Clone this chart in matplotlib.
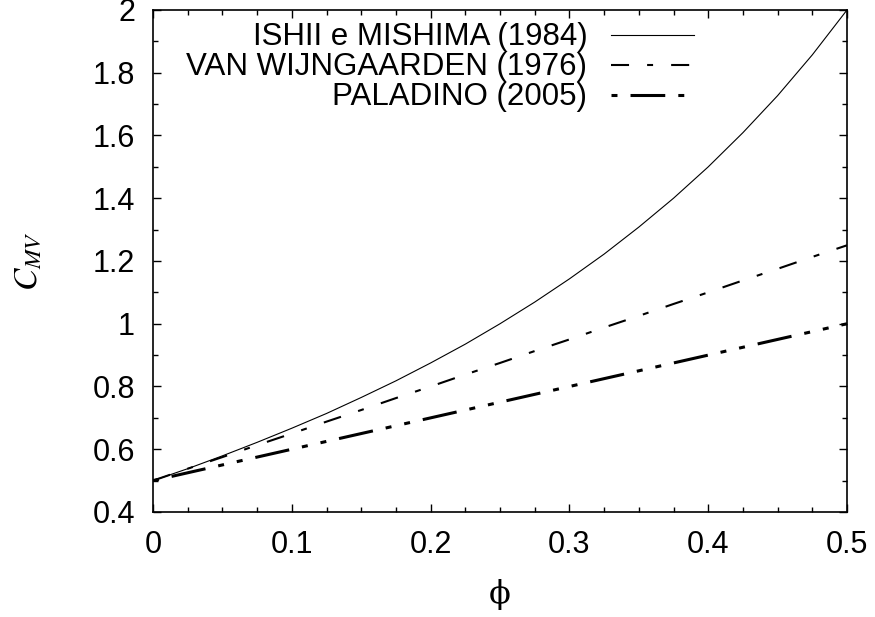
import matplotlib
matplotlib.use("Agg")
import matplotlib.pyplot as plt
from matplotlib.ticker import MultipleLocator

# void fraction and drag coefficient readings
phi = [0.0, 0.025, 0.05, 0.075, 0.1, 0.125, 0.15, 0.175, 0.2, 0.225, 0.25,
       0.275, 0.3, 0.325, 0.35, 0.375, 0.4, 0.425, 0.45, 0.475, 0.5]
ishii = [0.500, 0.538, 0.579, 0.622, 0.667, 0.714, 0.765, 0.818, 0.875, 0.935,
         1.000, 1.069, 1.143, 1.222, 1.308, 1.400, 1.500, 1.609, 1.727, 1.857, 2.000]
wijngaarden = [0.500, 0.538, 0.575, 0.613, 0.650, 0.688, 0.725, 0.763, 0.800,
               0.838, 0.875, 0.913, 0.950, 0.988, 1.025, 1.063, 1.100, 1.138,
               1.175, 1.213, 1.250]
paladino = [0.500, 0.525, 0.550, 0.575, 0.600, 0.625, 0.650, 0.675, 0.700,
            0.725, 0.750, 0.775, 0.800, 0.825, 0.850, 0.875, 0.900, 0.925,
            0.950, 0.975, 1.000]
labels = ["ISHII e MISHIMA (1984)", "VAN WIJNGAARDEN (1976)", "PALADINO (2005)"]
xticks = [0.0, 0.1, 0.2, 0.3, 0.4, 0.5]
xticklabels = ['0', '0.1', '0.2', '0.3', '0.4', '0.5']
yticks = [0.4, 0.6, 0.8, 1.0, 1.2, 1.4, 1.6, 1.8, 2.0]
yticklabels = ['0.4', '0.6', '0.8', '1', '1.2', '1.4', '1.6', '1.8', '2']

plt.rcParams['font.family'] = ['Liberation Sans', 'DejaVu Sans']
plt.rcParams['mathtext.fontset'] = 'stix'
plt.rcParams['lines.scale_dashes'] = False

fig = plt.figure(figsize=(8.75, 6.17), dpi=100)
ax = fig.add_axes([0.1749, 0.1702, 0.7931, 0.8136])

ax.plot(phi, ishii, color='black', lw=0.8, label=labels[0])
ax.plot(phi, wijngaarden, color='black', lw=1.5, dashes=(13, 13, 4.3, 13),
        label=labels[1])
ax.plot(phi, paladino, color='black', lw=2.2,
        dashes=(4.3, 9.4, 25, 9.4, 4.3, 9.4), label=labels[2])

ax.set_xlim(0, 0.5)
ax.set_ylim(0.4, 2.0)
ax.set_xticks(xticks)
ax.set_xticklabels(xticklabels)
ax.set_yticks(yticks)
ax.set_yticklabels(yticklabels)
ax.xaxis.set_minor_locator(MultipleLocator(0.025))
ax.yaxis.set_minor_locator(MultipleLocator(0.1))
ax.tick_params(which='both', direction='in', top=True, right=True,
               labelsize=22, pad=13, width=1)
ax.tick_params(which='major', length=6)
ax.tick_params(which='minor', length=3.5)
for s in ax.spines.values():
    s.set_linewidth(1.2)

ax.set_xlabel('ϕ', fontsize=23, family=['DejaVu Serif'], va='center')
ax.xaxis.set_label_coords(0.5, -0.165)
ax.set_ylabel(r'$C_{MV}$', fontsize=24, va='center')
ax.yaxis.set_label_coords(-0.18, 0.5)

ax.legend(loc='upper right', bbox_to_anchor=(0.797, 1.0), frameon=False,
          markerfirst=False, fontsize=22.5, handlelength=2.65,
          handletextpad=0.75, labelspacing=0.0, borderaxespad=0)

fig.savefig('out.png', dpi=100)
